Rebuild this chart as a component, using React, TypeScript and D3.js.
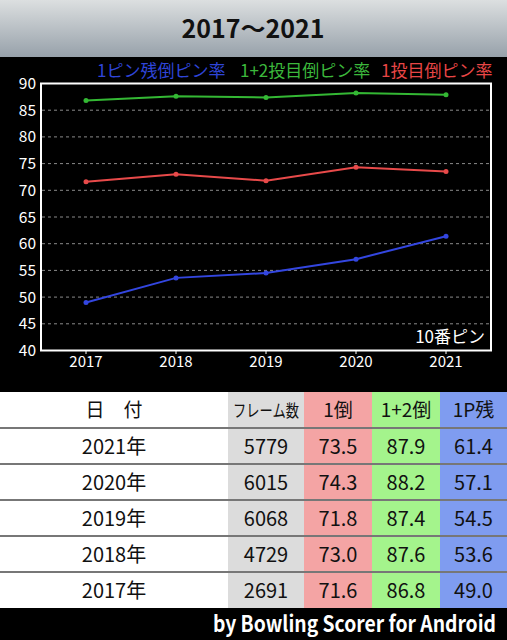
import React, { useLayoutEffect, useRef, useState } from "react";
import * as d3 from "d3";

const years = ["2017", "2018", "2019", "2020", "2021"];
const firstBall = [71.6, 73.0, 71.8, 74.3, 73.5];
const twoBall = [86.8, 87.6, 87.4, 88.2, 87.9];
const headPin = [49.0, 53.6, 54.5, 57.1, 61.4];
const yTicks = [40, 45, 50, 55, 60, 65, 70, 75, 80, 85, 90];

const tableYears = ["2021年", "2020年", "2019年", "2018年", "2017年"];
const frames = [5779, 6015, 6068, 4729, 2691];
const tFirst = ["73.5", "74.3", "71.8", "73.0", "71.6"];
const tTwo = ["87.9", "88.2", "87.4", "87.6", "86.8"];
const tHead = ["61.4", "57.1", "54.5", "53.6", "49.0"];
const headers = ["日　付", "フレーム数", "1倒", "1+2倒", "1P残"];

const W = 507;
const H = 640;
const FONT = "'Noto Sans CJK JP', 'Noto Sans', sans-serif";

export default function App() {
  const footRef = useRef<SVGTextElement>(null);
  const hdrRef = useRef<SVGTextElement>(null);
  const [footScale, setFootScale] = useState(0.8);
  const [hdrScale, setHdrScale] = useState(0.85);
  useLayoutEffect(() => {
    if (footRef.current) {
      const len = footRef.current.getComputedTextLength();
      if (len > 0) setFootScale(Math.min(1, 283 / len));
    }
    if (hdrRef.current) {
      const len = hdrRef.current.getComputedTextLength();
      if (len > 0) setHdrScale(Math.min(1, 66 / len));
    }
  }, []);

  const x = d3.scalePoint<string>().domain(years).range([41, 491]).padding(0.5);
  const y = d3.scaleLinear().domain([40, 90]).range([350.5, 83.5]);
  const line = d3
    .line<number>()
    .x((_, i) => x(years[i]) as number)
    .y((d) => y(d));

  const series = [
    { vals: twoBall, color: "#34b834" },
    { vals: firstBall, color: "#e84a4a" },
    { vals: headPin, color: "#3346e0" },
  ];

  const colX = [0, 228, 304, 372, 440, 507];
  const colFill = ["#ffffff", "#dcdcdc", "#f4a4a4", "#a4f48c", "#7f9cf0"];
  const tableTop = 392;
  const rowH = 36;
  const rows = tableYears.map((yr, i) => [yr, String(frames[i]), tFirst[i], tTwo[i], tHead[i]]);
  const colCenter = (ci: number) => (ci === 0 ? 114 : (colX[ci] + colX[ci + 1]) / 2);

  return (
    <svg
      width={W}
      height={H}
      style={{ position: "absolute", left: 0, top: 0, fontFamily: FONT }}
    >
      <defs>
        <linearGradient id="titleGrad" x1="0" y1="0" x2="0" y2="1">
          <stop offset="0" stopColor="#dcdfe0" />
          <stop offset="1" stopColor="#97a1aa" />
        </linearGradient>
      </defs>
      <rect x={0} y={0} width={W} height={H} fill="#000" />
      <rect x={0} y={0} width={W} height={57} fill="url(#titleGrad)" />
      <text x={253} y={38} textAnchor="middle" fontSize={25} fontWeight="bold" fill="#111">
        2017～2021
      </text>

      {/* legend */}
      <text x={97} y={77} fontSize={17} fill="#2f45d8">1ピン残倒ピン率</text>
      <text x={240} y={77} fontSize={17} fill="#3cb83c">1+2投目倒ピン率</text>
      <text x={381} y={77} fontSize={17} fill="#e84646">1投目倒ピン率</text>

      {/* grid */}
      {yTicks.slice(1, -1).map((t) => (
        <line
          key={t}
          x1={42}
          x2={490}
          y1={y(t)}
          y2={y(t)}
          stroke="#8a8a8a"
          strokeWidth={1}
          strokeDasharray="3,3"
        />
      ))}
      {yTicks.map((t) => (
        <text key={t} x={36} y={y(t) + 5.5} textAnchor="end" fontSize={15.5} fill="#fff">
          {t}
        </text>
      ))}
      {years.map((yr) => (
        <g key={yr}>
          <line x1={x(yr)} x2={x(yr)} y1={350} y2={354} stroke="#fff" strokeWidth={1} />
          <text x={x(yr)} y={367} textAnchor="middle" fontSize={15} fill="#fff">
            {yr}
          </text>
        </g>
      ))}
      <rect x={41} y={83.5} width={450} height={267} fill="none" stroke="#fff" strokeWidth={2} />

      {series.map((s, si) => (
        <g key={si}>
          <path d={line(s.vals) || ""} fill="none" stroke={s.color} strokeWidth={2} />
          {s.vals.map((v, i) => (
            <circle key={i} cx={x(years[i])} cy={y(v)} r={2.5} fill={s.color} />
          ))}
        </g>
      ))}
      <text x={485} y={343} textAnchor="end" fontSize={17} fill="#fff">
        10番ピン
      </text>

      {/* table */}
      {colFill.map((c, ci) => (
        <rect
          key={ci}
          x={colX[ci]}
          y={tableTop}
          width={colX[ci + 1] - colX[ci]}
          height={rowH * 6}
          fill={c}
        />
      ))}
      {headers.map((h, ci) =>
        ci === 1 ? (
          <g key={h} transform={`translate(${colCenter(ci)},${tableTop + 25}) scale(${hdrScale},1)`}>
            <text ref={hdrRef} x={0} y={0} textAnchor="middle" fontSize={17} fill="#111">
              {h}
            </text>
          </g>
        ) : (
          <text
            key={h}
            x={colCenter(ci)}
            y={tableTop + 25}
            textAnchor="middle"
            fontSize={19}
            fill="#111"
          >
            {h}
          </text>
        )
      )}
      {rows.map((r, ri) => (
        <g key={ri}>
          <line
            x1={0}
            x2={W}
            y1={tableTop + rowH * (ri + 1)}
            y2={tableTop + rowH * (ri + 1)}
            stroke="#777"
            strokeWidth={2}
          />
          {r.map((v, ci) => (
            <text
              key={ci}
              x={colCenter(ci)}
              y={tableTop + rowH * (ri + 1) + 26}
              textAnchor="middle"
              fontSize={20}
              fill="#111"
            >
              {v}
            </text>
          ))}
        </g>
      ))}

      <g transform={`translate(496,632) scale(${footScale},1)`}>
        <text
          ref={footRef}
          x={0}
          y={0}
          textAnchor="end"
          fontSize={22}
          fontWeight="bold"
          fill="#fff"
        >
          by Bowling Scorer for Android
        </text>
      </g>
    </svg>
  );
}
